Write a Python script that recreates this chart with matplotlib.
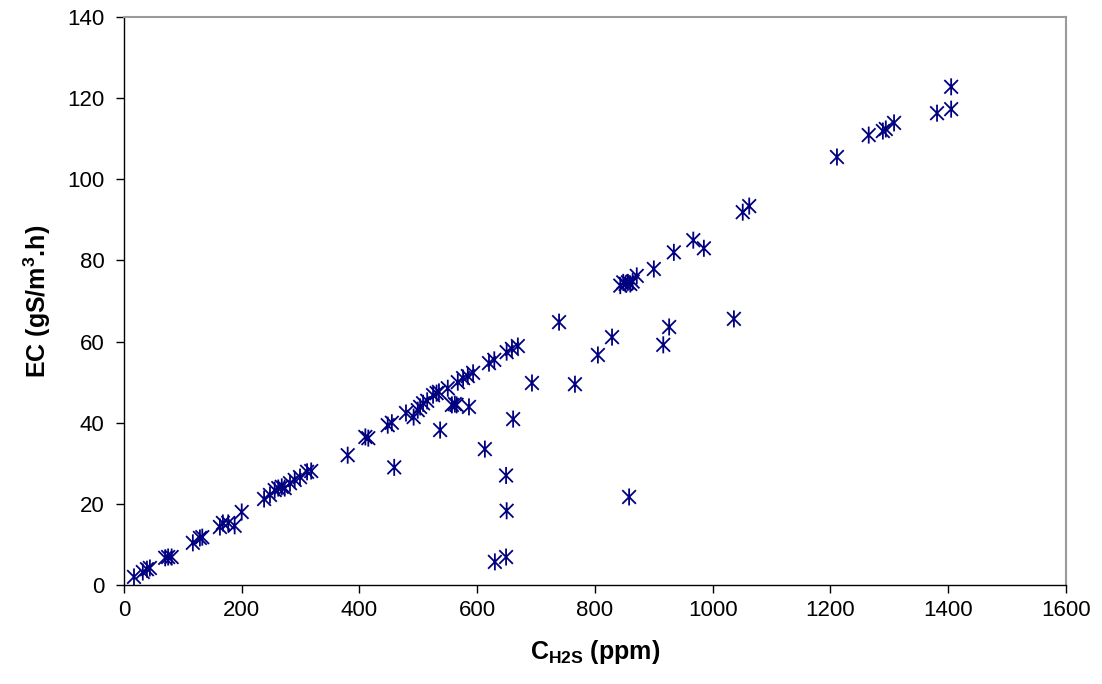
import matplotlib
matplotlib.use("Agg")
import matplotlib.pyplot as plt
from matplotlib.path import Path

plt.rcParams['font.family'] = ['Liberation Sans', 'DejaVu Sans']
plt.rcParams['mathtext.fontset'] = 'custom'
plt.rcParams['mathtext.rm'] = 'Liberation Sans'
plt.rcParams['mathtext.bf'] = 'Liberation Sans:bold'

c_h2s = [17, 32, 39, 44, 70, 75, 81, 117, 129, 133, 163, 168, 177, 188, 200,
         238, 248, 256, 262, 268, 273, 282, 290, 299, 311, 318,
         380, 410, 415, 448, 455, 459, 479, 492, 499, 503, 508, 515, 525, 531, 535,
         550, 537, 557, 562, 567, 576, 584, 593, 586, 565,
         620, 629, 650, 659, 669, 613, 661, 649, 650, 630, 649,
         693, 739, 766, 805, 829, 916, 926, 1036,
         843, 848, 852, 856, 860, 864, 871, 900, 934, 967, 985, 858,
         1051, 1062, 1211, 1265, 1289, 1294, 1308, 1381, 1405, 1405]
ec = [2.0, 3.2, 3.9, 4.2, 6.7, 6.9, 6.9, 10.4, 11.6, 11.8, 14.3, 15.3, 15.3, 14.6, 18.0,
      21.2, 22.2, 23.4, 23.9, 24.2, 23.9, 25.1, 25.9, 26.6, 27.9, 28.1,
      32.0, 36.5, 36.2, 39.4, 40.0, 29.0, 42.4, 41.4, 43.1, 43.9, 44.8, 45.4, 46.8, 47.3, 47.6,
      48.5, 38.2, 44.4, 44.6, 50.0, 51.0, 51.5, 52.3, 43.9, 44.4,
      54.7, 55.5, 57.4, 58.2, 58.9, 33.5, 40.9, 27.0, 18.3, 5.7, 6.9,
      49.8, 64.8, 49.5, 56.7, 61.1, 59.2, 63.6, 65.6,
      73.8, 74.6, 74.2, 74.6, 74.2, 74.8, 76.2, 77.9, 82.0, 85.0, 83.0, 21.7,
      91.9, 93.4, 105.5, 110.9, 111.9, 112.4, 113.9, 116.3, 122.8, 117.3]

x_ticks = [0, 200, 400, 600, 800, 1000, 1200, 1400, 1600]
y_ticks = [0, 20, 40, 60, 80, 100, 120, 140]

# Excel-style star marker: X plus vertical bar
verts = [(-1, -1), (1, 1), (-1, 1), (1, -1), (0, -1.25), (0, 1.25)]
codes = [Path.MOVETO, Path.LINETO, Path.MOVETO, Path.LINETO, Path.MOVETO, Path.LINETO]
star = Path(verts, codes)

fig = plt.figure(figsize=(11.02, 6.84), dpi=100)
ax = fig.add_axes([0.1125, 0.1447, 0.9673 - 0.1125, 0.9751 - 0.1447])
ax.scatter(c_h2s, ec, marker=star, s=150, facecolors='none', edgecolors='#000080',
           linewidths=1.3, zorder=3)

ax.set_xlim(0, 1600)
ax.set_ylim(0, 140)
ax.set_xticks(x_ticks)
ax.set_yticks(y_ticks)
ax.tick_params(axis='both', direction='out', length=6, width=1, labelsize=16, pad=5)
ax.tick_params(axis='y', pad=8)
for side in ['left', 'bottom']:
    ax.spines[side].set_color('black')
    ax.spines[side].set_linewidth(1)
for side in ['right', 'top']:
    ax.spines[side].set_color('#9a9a9a')
    ax.spines[side].set_linewidth(1.5)

ax.set_xlabel(r'$\mathbf{C}_{\mathbf{H2S}}$ (ppm)', fontsize=18, fontweight='bold', labelpad=12)
ax.set_ylabel(r'EC (gS/m$^{\mathbf{3}}$.h)', fontsize=18, fontweight='bold', labelpad=10)

fig.savefig('out.png', dpi=100, facecolor='white')
